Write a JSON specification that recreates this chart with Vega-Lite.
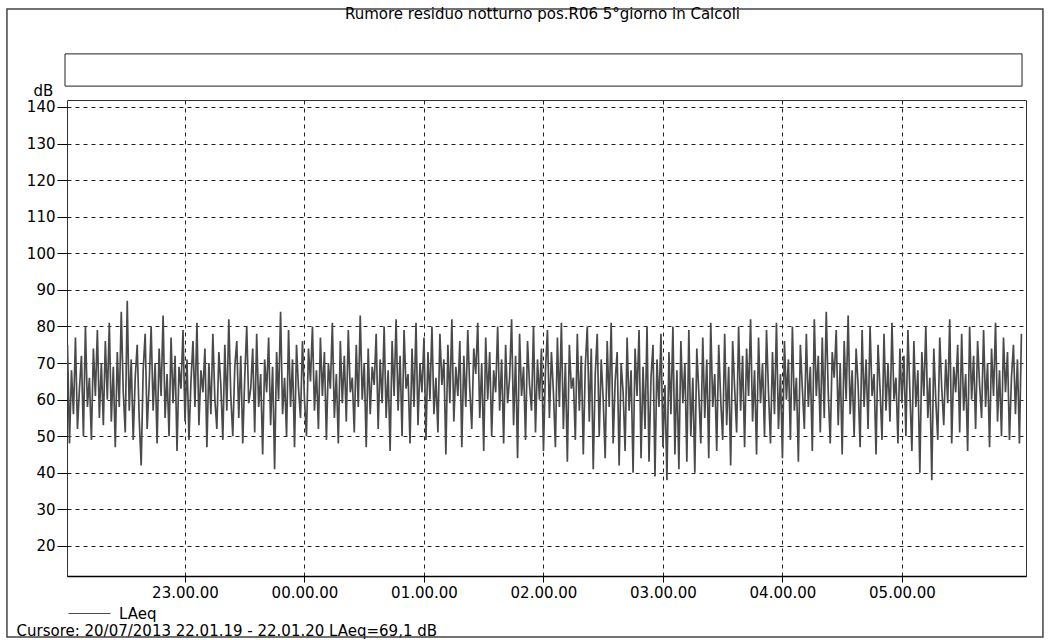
{
"$schema": "https://vega.github.io/schema/vega-lite/v6.json",
"width": 959, "height": 476,
"autosize": {"type": "none"},
"padding": {"left": 67, "top": 100, "right": 23, "bottom": 64},
"background": "white",
"title": {"text": "Rumore residuo notturno pos.R06 5°giorno in Calcoli", "font": "DejaVu Sans", "fontSize": 15, "fontWeight": "normal", "color": "black", "anchor": "middle", "frame": "group", "offset": -26, "baseline": "alphabetic", "dx": -4},
"data": {"values": [
{"t":1,"v":75},{"t":2,"v":48},{"t":3,"v":68},{"t":4,"v":56},{"t":5,"v":77},{"t":6,"v":52},{"t":7,"v":63},{"t":8,"v":72},{"t":9,"v":50},{"t":10,"v":80},{"t":11,"v":58},{"t":12,"v":66},{"t":13,"v":49},{"t":14,"v":74},{"t":15,"v":61},{"t":16,"v":79},{"t":17,"v":55},{"t":18,"v":70},{"t":19,"v":53},{"t":20,"v":76},
{"t":21,"v":60},{"t":22,"v":81},{"t":23,"v":54},{"t":24,"v":69},{"t":25,"v":47},{"t":26,"v":73},{"t":27,"v":58},{"t":28,"v":84},{"t":29,"v":62},{"t":30,"v":51},{"t":31,"v":87},{"t":32,"v":57},{"t":33,"v":71},{"t":34,"v":49},{"t":35,"v":66},{"t":36,"v":75},{"t":37,"v":55},{"t":38,"v":42},{"t":39,"v":68},{"t":40,"v":78},
{"t":41,"v":52},{"t":42,"v":64},{"t":43,"v":80},{"t":44,"v":57},{"t":45,"v":70},{"t":46,"v":48},{"t":47,"v":74},{"t":48,"v":61},{"t":49,"v":83},{"t":50,"v":55},{"t":51,"v":67},{"t":52,"v":50},{"t":53,"v":77},{"t":54,"v":59},{"t":55,"v":72},{"t":56,"v":46},{"t":57,"v":69},{"t":58,"v":63},{"t":59,"v":79},{"t":60,"v":54},
{"t":61,"v":71},{"t":62,"v":49},{"t":63,"v":65},{"t":64,"v":76},{"t":65,"v":58},{"t":66,"v":81},{"t":67,"v":53},{"t":68,"v":68},{"t":69,"v":62},{"t":70,"v":74},{"t":71,"v":47},{"t":72,"v":70},{"t":73,"v":56},{"t":74,"v":78},{"t":75,"v":60},{"t":76,"v":52},{"t":77,"v":73},{"t":78,"v":64},{"t":79,"v":49},{"t":80,"v":75},
{"t":81,"v":57},{"t":82,"v":82},{"t":83,"v":61},{"t":84,"v":50},{"t":85,"v":69},{"t":86,"v":76},{"t":87,"v":55},{"t":88,"v":72},{"t":89,"v":48},{"t":90,"v":66},{"t":91,"v":80},{"t":92,"v":59},{"t":93,"v":63},{"t":94,"v":74},{"t":95,"v":51},{"t":96,"v":78},{"t":97,"v":58},{"t":98,"v":67},{"t":99,"v":45},{"t":100,"v":71},
{"t":101,"v":62},{"t":102,"v":77},{"t":103,"v":53},{"t":104,"v":69},{"t":105,"v":41},{"t":106,"v":73},{"t":107,"v":60},{"t":108,"v":84},{"t":109,"v":56},{"t":110,"v":66},{"t":111,"v":50},{"t":112,"v":79},{"t":113,"v":58},{"t":114,"v":71},{"t":115,"v":47},{"t":116,"v":75},{"t":117,"v":63},{"t":118,"v":55},{"t":119,"v":76},{"t":120,"v":60},
{"t":121,"v":50},{"t":122,"v":74},{"t":123,"v":65},{"t":124,"v":80},{"t":125,"v":57},{"t":126,"v":68},{"t":127,"v":52},{"t":128,"v":77},{"t":129,"v":61},{"t":130,"v":73},{"t":131,"v":49},{"t":132,"v":70},{"t":133,"v":63},{"t":134,"v":81},{"t":135,"v":55},{"t":136,"v":67},{"t":137,"v":48},{"t":138,"v":76},{"t":139,"v":59},{"t":140,"v":72},
{"t":141,"v":54},{"t":142,"v":79},{"t":143,"v":62},{"t":144,"v":66},{"t":145,"v":51},{"t":146,"v":75},{"t":147,"v":58},{"t":148,"v":83},{"t":149,"v":60},{"t":150,"v":70},{"t":151,"v":47},{"t":152,"v":74},{"t":153,"v":56},{"t":154,"v":69},{"t":155,"v":64},{"t":156,"v":78},{"t":157,"v":52},{"t":158,"v":71},{"t":159,"v":59},{"t":160,"v":80},
{"t":161,"v":55},{"t":162,"v":68},{"t":163,"v":46},{"t":164,"v":76},{"t":165,"v":61},{"t":166,"v":82},{"t":167,"v":57},{"t":168,"v":72},{"t":169,"v":50},{"t":170,"v":79},{"t":171,"v":63},{"t":172,"v":67},{"t":173,"v":48},{"t":174,"v":74},{"t":175,"v":58},{"t":176,"v":81},{"t":177,"v":53},{"t":178,"v":70},{"t":179,"v":62},{"t":180,"v":77},
{"t":181,"v":49},{"t":182,"v":73},{"t":183,"v":60},{"t":184,"v":80},{"t":185,"v":56},{"t":186,"v":66},{"t":187,"v":51},{"t":188,"v":78},{"t":189,"v":64},{"t":190,"v":71},{"t":191,"v":45},{"t":192,"v":75},{"t":193,"v":59},{"t":194,"v":82},{"t":195,"v":54},{"t":196,"v":69},{"t":197,"v":61},{"t":198,"v":76},{"t":199,"v":47},{"t":200,"v":72},
{"t":201,"v":58},{"t":202,"v":79},{"t":203,"v":63},{"t":204,"v":52},{"t":205,"v":74},{"t":206,"v":67},{"t":207,"v":81},{"t":208,"v":55},{"t":209,"v":70},{"t":210,"v":46},{"t":211,"v":77},{"t":212,"v":60},{"t":213,"v":73},{"t":214,"v":50},{"t":215,"v":68},{"t":216,"v":62},{"t":217,"v":80},{"t":218,"v":57},{"t":219,"v":71},{"t":220,"v":48},
{"t":221,"v":75},{"t":222,"v":59},{"t":223,"v":66},{"t":224,"v":82},{"t":225,"v":53},{"t":226,"v":72},{"t":227,"v":44},{"t":228,"v":78},{"t":229,"v":61},{"t":230,"v":69},{"t":231,"v":49},{"t":232,"v":76},{"t":233,"v":64},{"t":234,"v":57},{"t":235,"v":80},{"t":236,"v":51},{"t":237,"v":71},{"t":238,"v":60},{"t":239,"v":74},{"t":240,"v":46},
{"t":241,"v":68},{"t":242,"v":79},{"t":243,"v":55},{"t":244,"v":73},{"t":245,"v":62},{"t":246,"v":47},{"t":247,"v":77},{"t":248,"v":58},{"t":249,"v":81},{"t":250,"v":52},{"t":251,"v":70},{"t":252,"v":43},{"t":253,"v":75},{"t":254,"v":63},{"t":255,"v":66},{"t":256,"v":49},{"t":257,"v":78},{"t":258,"v":57},{"t":259,"v":72},{"t":260,"v":45},
{"t":261,"v":69},{"t":262,"v":80},{"t":263,"v":54},{"t":264,"v":74},{"t":265,"v":41},{"t":266,"v":67},{"t":267,"v":78},{"t":268,"v":50},{"t":269,"v":71},{"t":270,"v":60},{"t":271,"v":44},{"t":272,"v":76},{"t":273,"v":58},{"t":274,"v":81},{"t":275,"v":48},{"t":276,"v":65},{"t":277,"v":73},{"t":278,"v":42},{"t":279,"v":70},{"t":280,"v":62},
{"t":281,"v":46},{"t":282,"v":77},{"t":283,"v":57},{"t":284,"v":68},{"t":285,"v":40},{"t":286,"v":74},{"t":287,"v":61},{"t":288,"v":79},{"t":289,"v":44},{"t":290,"v":69},{"t":291,"v":52},{"t":292,"v":80},{"t":293,"v":43},{"t":294,"v":66},{"t":295,"v":75},{"t":296,"v":39},{"t":297,"v":71},{"t":298,"v":58},{"t":299,"v":78},{"t":300,"v":47},
{"t":301,"v":64},{"t":302,"v":38},{"t":303,"v":73},{"t":304,"v":56},{"t":305,"v":80},{"t":306,"v":45},{"t":307,"v":68},{"t":308,"v":41},{"t":309,"v":76},{"t":310,"v":59},{"t":311,"v":70},{"t":312,"v":43},{"t":313,"v":79},{"t":314,"v":50},{"t":315,"v":66},{"t":316,"v":40},{"t":317,"v":74},{"t":318,"v":62},{"t":319,"v":48},{"t":320,"v":77},
{"t":321,"v":55},{"t":322,"v":71},{"t":323,"v":44},{"t":324,"v":81},{"t":325,"v":58},{"t":326,"v":67},{"t":327,"v":46},{"t":328,"v":75},{"t":329,"v":60},{"t":330,"v":49},{"t":331,"v":78},{"t":332,"v":53},{"t":333,"v":69},{"t":334,"v":42},{"t":335,"v":76},{"t":336,"v":63},{"t":337,"v":51},{"t":338,"v":80},{"t":339,"v":57},{"t":340,"v":72},
{"t":341,"v":47},{"t":342,"v":74},{"t":343,"v":61},{"t":344,"v":82},{"t":345,"v":54},{"t":346,"v":68},{"t":347,"v":45},{"t":348,"v":77},{"t":349,"v":59},{"t":350,"v":70},{"t":351,"v":50},{"t":352,"v":79},{"t":353,"v":62},{"t":354,"v":48},{"t":355,"v":73},{"t":356,"v":56},{"t":357,"v":81},{"t":358,"v":52},{"t":359,"v":67},{"t":360,"v":44},
{"t":361,"v":76},{"t":362,"v":60},{"t":363,"v":71},{"t":364,"v":49},{"t":365,"v":80},{"t":366,"v":57},{"t":367,"v":66},{"t":368,"v":43},{"t":369,"v":75},{"t":370,"v":63},{"t":371,"v":52},{"t":372,"v":78},{"t":373,"v":58},{"t":374,"v":69},{"t":375,"v":46},{"t":376,"v":82},{"t":377,"v":61},{"t":378,"v":72},{"t":379,"v":51},{"t":380,"v":77},
{"t":381,"v":55},{"t":382,"v":84},{"t":383,"v":62},{"t":384,"v":48},{"t":385,"v":73},{"t":386,"v":66},{"t":387,"v":79},{"t":388,"v":53},{"t":389,"v":70},{"t":390,"v":45},{"t":391,"v":76},{"t":392,"v":60},{"t":393,"v":83},{"t":394,"v":56},{"t":395,"v":68},{"t":396,"v":50},{"t":397,"v":74},{"t":398,"v":64},{"t":399,"v":47},{"t":400,"v":79},
{"t":401,"v":58},{"t":402,"v":71},{"t":403,"v":52},{"t":404,"v":80},{"t":405,"v":61},{"t":406,"v":67},{"t":407,"v":45},{"t":408,"v":75},{"t":409,"v":63},{"t":410,"v":49},{"t":411,"v":78},{"t":412,"v":57},{"t":413,"v":70},{"t":414,"v":54},{"t":415,"v":81},{"t":416,"v":60},{"t":417,"v":66},{"t":418,"v":48},{"t":419,"v":74},{"t":420,"v":59},
{"t":421,"v":72},{"t":422,"v":50},{"t":423,"v":79},{"t":424,"v":62},{"t":425,"v":46},{"t":426,"v":76},{"t":427,"v":58},{"t":428,"v":68},{"t":429,"v":40},{"t":430,"v":73},{"t":431,"v":61},{"t":432,"v":80},{"t":433,"v":55},{"t":434,"v":66},{"t":435,"v":38},{"t":436,"v":74},{"t":437,"v":60},{"t":438,"v":49},{"t":439,"v":77},{"t":440,"v":63},
{"t":441,"v":53},{"t":442,"v":71},{"t":443,"v":59},{"t":444,"v":82},{"t":445,"v":48},{"t":446,"v":69},{"t":447,"v":62},{"t":448,"v":75},{"t":449,"v":51},{"t":450,"v":78},{"t":451,"v":57},{"t":452,"v":67},{"t":453,"v":46},{"t":454,"v":80},{"t":455,"v":60},{"t":456,"v":72},{"t":457,"v":52},{"t":458,"v":76},{"t":459,"v":64},{"t":460,"v":55},
{"t":461,"v":79},{"t":462,"v":58},{"t":463,"v":70},{"t":464,"v":47},{"t":465,"v":74},{"t":466,"v":61},{"t":467,"v":81},{"t":468,"v":54},{"t":469,"v":68},{"t":470,"v":50},{"t":471,"v":77},{"t":472,"v":62},{"t":473,"v":73},{"t":474,"v":49},{"t":475,"v":66},{"t":476,"v":75},{"t":477,"v":56},{"t":478,"v":71},{"t":479,"v":48},{"t":480,"v":78}
]},
"layer": [
{"data": {"values": [{}]}, "mark": {"type": "rect", "fillOpacity": 0, "stroke": "#444", "strokeWidth": 1.5, "clip": false},
 "encoding": {"x": {"datum": -29.4, "type": "quantitative", "scale": {"domain": [0.75, 482.3], "nice": false, "zero": false}, "axis": null}, "x2": {"datum": 490.8}, "y": {"datum": -4.9, "type": "quantitative", "scale": {"domain": [11.8, 141.9], "nice": false, "zero": false}, "axis": null}, "y2": {"datum": 166.8}}},
{"data": {"values": [{}]}, "mark": {"type": "rect", "fillOpacity": 0, "stroke": "#222", "strokeWidth": 1, "clip": false},
 "encoding": {"x": {"datum": -0.25, "type": "quantitative", "scale": {"domain": [0.75, 482.3], "nice": false, "zero": false}, "axis": null}, "x2": {"datum": 480.3}, "y": {"datum": 145.7, "type": "quantitative", "scale": {"domain": [11.8, 141.9], "nice": false, "zero": false}, "axis": null}, "y2": {"datum": 154.5}}},
{"mark": {"type": "line", "strokeWidth": 1.7, "clip": true},
 "encoding": {
  "x": {"field": "t", "type": "quantitative", "scale": {"domain": [0.75, 482.3], "nice": false, "zero": false},
        "axis": {"values": [60, 120, 180, 240, 300, 360, 420], "labelExpr": "['23.00.00','00.00.00','01.00.00','02.00.00','03.00.00','04.00.00','05.00.00'][datum.value/60-1]",
                 "title": "Cursore: 20/07/2013 22.01.19 - 22.01.20  LAeq=69,1 dB", "titleX": -51, "titleY": 54, "titleAlign": "left", "titleBaseline": "middle",
                 "titleFont": "DejaVu Sans", "titleFontSize": 15, "titleFontWeight": "normal", "titleColor": "black",
                 "labelFont": "DejaVu Sans", "labelFontSize": 15, "labelColor": "black", "labelPadding": 3, "labelFlush": false,
                 "tickSize": 6, "tickColor": "black", "domainColor": "black", "domainWidth": 1.5,
                 "grid": true, "gridDash": [4, 4], "gridColor": "#222", "gridWidth": 1}},
  "y": {"field": "v", "type": "quantitative", "scale": {"domain": [11.8, 141.9], "nice": false, "zero": false},
        "axis": {"values": [20, 30, 40, 50, 60, 70, 80, 90, 100, 110, 120, 130, 140], "title": "dB", "titleAngle": 0, "titleX": -24, "titleY": -2, "titleAlign": "center", "titleBaseline": "bottom",
                 "titleFont": "DejaVu Sans", "titleFontSize": 15, "titleFontWeight": "normal", "titleColor": "black",
                 "labelFont": "DejaVu Sans", "labelFontSize": 15, "labelColor": "black", "labelPadding": 2,
                 "tickSize": 10, "tickColor": "black", "domain": false,
                 "grid": true, "gridDash": [4, 4], "gridColor": "#222", "gridWidth": 1}},
  "color": {"datum": "LAeq", "type": "nominal", "scale": {"range": ["#4a4a4a"]},
            "legend": {"orient": "none", "legendX": 1, "legendY": 492, "title": null, "symbolType": "stroke", "symbolSize": 1764, "symbolStrokeWidth": 1,
                       "labelFont": "DejaVu Sans", "labelFontSize": 15, "labelColor": "black", "labelOffset": 8}}
 }}
],
"resolve": {"axis": {"x": "independent", "y": "independent"}},
"config": {"view": {"stroke": "#333", "strokeWidth": 1}}
}
